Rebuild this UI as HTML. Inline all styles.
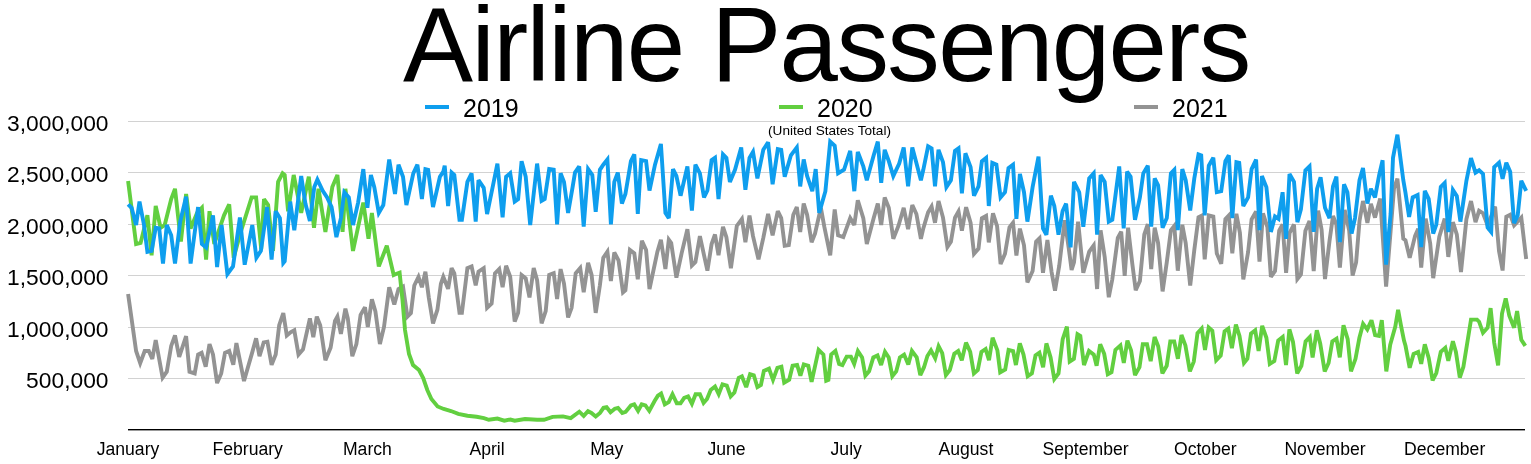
<!DOCTYPE html>
<html><head><meta charset="utf-8"><style>
html,body{margin:0;padding:0;background:#fff;width:1531px;height:464px;overflow:hidden}
svg{display:block;font-family:"Liberation Sans",sans-serif}
text{-webkit-font-smoothing:antialiased}
body{will-change:transform}
</style></head><body>
<svg width="1531" height="464" viewBox="0 0 1531 464">
<rect width="1531" height="464" fill="#fff"/>
<text transform="translate(403,80.8) scale(1,1.0)" x="0" y="0" font-size="105" letter-spacing="-1.6">Airline Passengers</text>
<rect x="425" y="105" width="24" height="4" fill="#0E9EEE"/>
<text x="463" y="117" font-size="25">2019</text>
<rect x="779" y="105" width="24" height="4" fill="#62CF40"/>
<text x="817" y="117" font-size="25">2020</text>
<rect x="1134" y="105" width="24" height="4" fill="#939393"/>
<text x="1172" y="117" font-size="25">2021</text>
<rect x="128" y="121" width="1397" height="1" fill="#d2d2d2"/>
<rect x="128" y="172" width="1397" height="1" fill="#d2d2d2"/>
<rect x="128" y="224" width="1397" height="1" fill="#d2d2d2"/>
<rect x="128" y="275" width="1397" height="1" fill="#d2d2d2"/>
<rect x="128" y="327" width="1397" height="1" fill="#d2d2d2"/>
<rect x="128" y="378" width="1397" height="1" fill="#d2d2d2"/>

<text x="829.5" y="135.3" font-size="13.6" text-anchor="middle">(United States Total)</text>
<text x="108.5" y="387.9" font-size="22.8" text-anchor="end">500,000</text>
<text x="108.5" y="336.9" font-size="22.8" text-anchor="end">1,000,000</text>
<text x="108.5" y="284.9" font-size="22.8" text-anchor="end">1,500,000</text>
<text x="108.5" y="233.9" font-size="22.8" text-anchor="end">2,000,000</text>
<text x="108.5" y="181.9" font-size="22.8" text-anchor="end">2,500,000</text>
<text x="108.5" y="130.9" font-size="22.8" text-anchor="end">3,000,000</text>

<rect x="128" y="429" width="1397" height="1.4" fill="#000"/>
<text x="128.0" y="455" font-size="17.6" text-anchor="middle">January</text>
<text x="247.7" y="455" font-size="17.6" text-anchor="middle">February</text>
<text x="367.4" y="455" font-size="17.6" text-anchor="middle">March</text>
<text x="487.1" y="455" font-size="17.6" text-anchor="middle">April</text>
<text x="606.8" y="455" font-size="17.6" text-anchor="middle">May</text>
<text x="726.5" y="455" font-size="17.6" text-anchor="middle">June</text>
<text x="846.2" y="455" font-size="17.6" text-anchor="middle">July</text>
<text x="965.9" y="455" font-size="17.6" text-anchor="middle">August</text>
<text x="1085.6" y="455" font-size="17.6" text-anchor="middle">September</text>
<text x="1205.3" y="455" font-size="17.6" text-anchor="middle">October</text>
<text x="1325.0" y="455" font-size="17.6" text-anchor="middle">November</text>
<text x="1444.7" y="455" font-size="17.6" text-anchor="middle">December</text>

<polyline points="128.1,294.1 136.1,351.0 140.2,363.1 144.7,351.0 148.8,351.0 152.3,359.0 155.7,340.0 162.6,377.6 166.8,371.7 171.2,345.9 175.0,335.5 179.2,356.9 186.1,336.2 189.5,371.7 194.7,373.4 198.1,354.5 201.6,352.8 205.7,366.6 209.5,344.1 213.0,354.5 217.1,383.1 221.2,373.4 225.0,352.8 229.2,351.0 233.3,364.8 236.4,343.1 244.0,381.0 252.3,352.1 256.1,338.3 259.5,356.2 263.7,342.4 267.4,341.7 271.6,364.8 275.7,354.5 279.2,325.2 283.3,313.1 286.8,335.5 290.9,332.1 294.3,330.3 298.5,354.5 303.0,349.3 309.9,318.3 313.3,337.2 316.8,316.6 320.2,325.2 325.4,360.3 330.6,347.6 335.0,321.0 337.4,316.6 340.9,333.8 345.4,308.6 347.8,318.3 352.3,356.2 356.4,344.1 360.6,314.8 365.0,307.2 367.8,326.9 371.9,299.3 375.4,311.4 379.9,344.1 384.0,326.9 389.2,287.2 394.3,304.5 398.5,289.0 403.0,286.6 407.4,316.6 410.9,313.1 414.3,285.5 418.5,276.9 421.9,287.2 425.4,271.7 428.8,297.6 433.0,323.4 437.4,309.7 440.9,283.8 443.3,276.9 448.1,288.8 451.6,268.1 454.3,273.3 459.5,312.9 461.9,312.9 467.4,268.1 471.6,266.4 475.7,285.3 478.5,271.6 483.7,268.1 487.1,307.8 491.6,303.6 495.0,273.3 499.2,269.1 502.6,287.1 506.1,265.7 510.2,276.7 514.7,321.6 518.1,312.9 521.6,275.0 525.7,278.4 529.5,297.4 533.7,268.1 537.1,280.2 541.6,323.3 545.7,311.2 549.2,275.0 553.7,273.3 557.1,299.1 560.6,269.1 564.0,283.6 568.1,317.4 571.6,307.8 575.7,273.3 580.2,268.1 583.7,292.2 588.1,262.9 591.6,275.0 595.7,312.9 599.9,285.3 603.3,257.8 607.4,251.7 610.9,281.0 614.3,252.4 618.5,260.3 623.0,292.4 625.4,290.3 629.9,250.0 634.3,253.4 637.8,279.3 641.9,240.7 646.1,250.0 649.5,289.0 657.4,251.7 660.9,239.7 665.4,269.0 668.8,239.7 671.2,243.1 676.4,277.6 681.6,253.4 687.4,229.3 691.9,265.5 695.4,262.1 699.9,236.2 707.4,270.7 711.6,244.1 715.0,234.5 718.5,255.2 723.0,226.9 726.4,237.2 730.9,268.3 736.8,225.9 741.9,219.0 745.4,242.1 749.5,215.5 753.0,236.2 758.5,259.3 763.3,237.9 768.1,214.0 772.6,235.3 777.8,211.2 781.2,218.1 784.7,245.7 788.8,245.0 793.3,214.7 796.8,207.1 800.2,231.9 803.7,203.6 807.1,214.7 811.6,242.2 815.0,233.6 820.9,207.8 824.3,226.7 830.2,255.3 834.7,209.5 838.1,235.3 843.3,237.1 850.2,218.1 854.3,225.0 857.8,200.2 863.3,218.1 866.8,244.0 873.7,218.1 877.8,203.6 881.2,225.0 884.7,197.4 888.8,207.8 893.3,238.8 898.5,225.7 903.7,207.8 908.1,229.1 912.3,205.0 916.4,214.0 920.9,238.8 923.3,228.4 928.1,212.4 931.6,206.6 935.0,222.8 938.5,201.0 943.0,217.6 947.4,246.9 950.9,241.7 955.0,217.6 958.5,211.4 961.9,230.7 966.1,207.2 970.6,222.8 974.0,253.8 978.5,248.6 981.9,218.3 986.1,215.9 988.8,242.4 993.0,213.4 997.1,226.2 1000.6,264.1 1005.0,253.8 1009.5,227.2 1013.0,222.8 1016.4,255.5 1019.9,228.6 1024.0,245.2 1027.4,282.4 1032.6,271.0 1036.1,241.7 1039.5,238.3 1043.0,272.8 1047.4,240.0 1051.6,272.1 1055.0,290.7 1059.2,265.9 1064.7,220.3 1068.8,248.6 1071.6,270.0 1074.0,262.4 1078.1,221.7 1083.3,272.8 1089.2,251.7 1093.7,245.5 1097.1,289.0 1100.6,230.3 1104.7,256.9 1108.8,297.2 1112.3,279.3 1117.8,237.9 1121.2,231.7 1124.7,275.9 1128.1,227.6 1132.3,263.8 1135.7,290.3 1139.9,281.0 1144.3,234.5 1147.8,224.1 1151.2,269.0 1154.7,227.6 1158.1,243.1 1162.6,291.4 1166.8,262.1 1170.9,230.3 1174.3,225.9 1177.8,270.7 1182.3,224.8 1185.7,243.1 1190.2,285.5 1194.3,250.0 1198.5,217.2 1201.9,215.5 1204.7,259.3 1208.8,215.5 1213.3,216.6 1216.8,253.4 1221.2,263.8 1225.4,219.0 1228.8,215.5 1232.3,253.4 1236.4,213.8 1239.9,232.8 1243.3,279.3 1248.1,252.1 1251.6,219.3 1256.1,211.4 1259.5,261.7 1263.0,213.4 1267.4,227.2 1270.9,276.9 1275.0,271.0 1279.2,230.7 1282.6,224.5 1286.1,272.8 1289.5,233.1 1294.0,224.5 1297.4,279.0 1300.9,274.5 1305.4,230.7 1309.5,221.0 1313.7,271.0 1318.1,210.7 1321.6,229.7 1325.0,279.0 1329.5,241.0 1333.0,215.9 1336.4,224.5 1339.9,267.6 1344.7,210.0 1349.2,230.7 1352.6,275.5 1356.1,262.4 1359.5,221.0 1363.0,201.0 1367.4,222.8 1370.9,203.8 1375.0,217.6 1380.2,198.6 1386.1,286.6 1390.6,231.4 1394.0,188.3 1397.4,178.6 1403.3,238.6 1405.5,240.3 1409.7,257.8 1415.1,235.8 1418.2,228.9 1421.2,267.5 1425.7,218.6 1430.2,243.4 1433.2,278.1 1439.3,236.7 1444.7,218.6 1448.3,256.9 1452.9,222.2 1456.8,234.3 1461.0,272.0 1466.4,219.2 1471.0,201.1 1475.5,222.2 1479.1,210.8 1483.0,213.2 1487.6,225.3 1495.1,206.6 1499.0,250.9 1502.6,270.5 1506.3,216.8 1510.2,214.7 1514.1,225.3 1521.3,217.7 1526.2,259.1" fill="none" stroke="#939393" stroke-width="3.9" stroke-linejoin="miter" stroke-miterlimit="3"/>
<polyline points="128.1,180.9 136.1,244.0 140.6,242.9 147.4,215.3 151.6,255.3 155.7,206.0 160.6,227.8 164.7,225.0 171.2,199.1 175.0,188.8 180.9,241.6 186.1,194.0 190.6,228.4 197.1,212.9 201.9,207.8 206.1,259.5 209.5,211.2 214.3,244.0 224.0,215.3 229.2,204.3 233.7,257.8 239.9,234.7 251.6,197.4 256.1,197.4 261.2,249.1 264.0,199.1 268.1,205.0 273.0,250.9 278.1,181.9 282.6,173.3 284.7,175.0 288.1,211.2 293.7,175.0 301.2,212.9 308.8,176.7 314.0,227.8 318.5,188.8 325.4,231.9 332.3,187.1 337.4,175.0 342.6,231.9 345.4,188.8 353.0,250.9 363.3,202.6 368.5,238.8 371.9,212.9 378.8,266.4 386.8,245.7 393.7,275.0 397.8,273.3 399.6,272.7 402.5,300.0 405.0,330.0 409.0,354.0 413.0,365.0 419.0,370.0 423.2,378.0 427.3,390.0 431.4,399.0 437.6,406.5 443.7,409.0 451.0,411.0 458.3,413.8 467.4,415.7 476.6,416.8 483.9,418.2 488.8,419.8 497.4,418.6 504.3,420.7 510.4,419.5 514.7,420.7 525.0,419.0 537.1,419.8 544.0,419.8 552.6,416.9 563.0,416.4 570.7,418.1 579.3,411.7 583.7,415.9 588.0,411.2 591.4,412.9 595.7,416.4 600.0,412.9 603.5,407.8 606.6,407.2 610.5,412.3 614.8,408.7 618.0,408.0 622.3,413.0 625.6,411.9 630.9,405.4 634.2,404.4 638.1,410.8 641.7,404.4 645.4,405.4 649.3,410.8 654.6,401.1 657.9,395.7 661.1,393.6 664.8,404.4 668.7,402.2 672.5,394.2 676.8,403.3 680.5,403.3 684.2,397.9 688.1,396.4 691.9,403.7 695.6,394.2 699.9,394.2 703.6,402.8 707.0,399.0 710.7,389.9 715.0,386.5 718.7,394.2 722.5,384.3 726.8,385.6 730.7,396.4 734.4,392.5 738.7,377.8 741.9,376.3 746.2,387.1 750.1,374.2 753.8,375.3 757.4,387.1 760.9,385.0 763.9,370.9 769.0,368.6 773.0,379.8 777.4,367.8 781.4,366.7 784.2,382.7 789.2,379.8 792.6,365.8 797.1,365.0 800.4,375.6 803.8,364.4 808.3,365.8 811.6,381.8 818.6,349.9 823.4,354.6 826.2,380.7 828.4,379.8 831.2,354.6 835.4,351.0 839.1,363.9 842.4,365.0 846.7,356.6 850.9,356.6 854.2,363.9 857.9,351.0 862.1,357.4 865.4,375.6 869.1,371.4 873.3,357.4 877.5,355.5 881.1,365.0 885.0,351.8 888.7,357.4 892.3,376.2 896.2,371.4 899.9,357.4 904.1,354.6 908.3,364.4 911.9,351.0 916.7,357.4 920.3,375.1 924.0,367.2 927.4,356.0 931.0,350.4 935.2,358.3 938.6,346.2 942.2,353.2 945.9,375.1 949.8,370.0 954.3,353.8 958.2,351.0 961.8,360.2 966.0,342.6 970.2,351.8 973.9,373.4 977.8,370.0 981.4,351.8 985.6,349.0 989.0,360.2 992.6,337.8 997.4,350.4 1000.2,372.3 1005.2,369.5 1008.6,349.9 1013.1,351.0 1015.9,365.0 1019.8,343.4 1023.5,354.6 1027.7,376.2 1031.9,373.4 1035.5,355.5 1039.4,352.7 1043.1,367.2 1046.4,343.4 1050.6,357.4 1054.3,379.0 1058.5,373.4 1062.7,339.2 1066.9,326.6 1069.7,361.6 1073.9,358.8 1077.5,334.2 1080.3,335.9 1084.0,365.0 1089.0,351.0 1093.8,354.6 1096.6,365.8 1100.2,344.3 1104.2,353.8 1107.8,374.2 1111.5,372.3 1115.4,349.9 1120.4,345.4 1123.8,363.0 1127.4,340.6 1131.1,350.4 1135.0,375.1 1139.5,367.2 1142.8,344.3 1147.0,344.3 1150.7,361.1 1154.6,337.0 1158.2,346.2 1162.4,373.4 1166.7,365.8 1170.3,341.5 1174.2,341.5 1177.9,358.8 1181.5,335.0 1185.4,345.4 1189.9,371.4 1193.8,361.6 1197.5,333.1 1201.7,328.6 1205.0,349.9 1208.7,327.5 1212.3,330.8 1216.2,360.2 1220.7,355.5 1224.6,331.4 1228.3,328.6 1231.9,348.2 1235.9,324.7 1239.5,335.9 1244.0,363.0 1247.4,358.8 1251.0,333.6 1255.2,330.3 1258.6,351.0 1262.2,325.8 1266.4,337.8 1269.8,363.9 1274.3,361.1 1278.2,340.6 1282.7,337.0 1286.0,365.0 1289.4,329.4 1293.0,342.0 1297.2,373.4 1301.4,365.8 1305.6,341.5 1309.8,337.0 1312.6,357.4 1316.8,330.3 1320.2,343.4 1324.7,371.4 1328.6,363.0 1332.3,341.5 1336.5,338.7 1339.8,357.4 1343.5,325.2 1347.7,339.2 1351.0,371.4 1355.5,358.8 1359.4,337.8 1363.1,323.8 1367.3,329.4 1371.5,320.2 1375.1,335.0 1379.0,335.9 1381.8,320.2 1386.3,371.4 1390.2,344.8 1395.3,326.6 1398.1,309.8 1400.9,325.2 1404.0,340.6 1405.5,345.8 1409.7,367.8 1413.6,354.0 1418.2,351.9 1421.2,363.9 1424.8,344.3 1428.7,357.9 1432.6,380.5 1436.3,373.0 1440.8,351.9 1445.3,347.9 1448.3,360.9 1452.9,341.3 1455.9,351.9 1459.8,377.5 1463.4,366.9 1471.0,319.6 1477.0,319.6 1479.1,321.7 1483.0,332.8 1487.6,327.7 1490.6,308.1 1494.2,342.8 1498.1,365.4 1502.0,313.5 1505.7,298.4 1509.3,315.6 1514.1,327.7 1517.1,311.1 1521.3,339.8 1525.3,345.8" fill="none" stroke="#62CF40" stroke-width="3.9" stroke-linejoin="miter" stroke-miterlimit="3"/>
<polyline points="128.1,204.3 131.6,207.8 136.1,225.0 139.5,201.6 144.0,225.0 147.4,251.9 151.6,250.9 155.7,227.8 159.2,228.4 163.0,263.6 166.8,225.0 171.2,235.3 175.0,263.6 180.2,221.6 186.1,196.7 190.6,263.6 198.1,207.1 201.9,244.0 206.1,247.4 213.0,215.3 217.1,267.1 221.6,225.0 227.4,274.0 233.0,266.4 239.9,217.4 244.7,264.7 252.3,225.0 256.4,257.8 260.9,250.9 267.1,207.1 271.6,259.5 275.7,211.2 279.9,218.1 283.3,262.9 284.7,261.2 290.2,201.6 294.3,230.2 301.2,176.0 305.4,203.6 309.9,220.9 314.3,187.1 317.4,179.5 322.6,190.5 327.1,197.4 331.6,207.1 336.4,237.1 340.9,218.1 344.3,192.2 348.8,197.4 353.0,225.0 358.1,202.6 363.3,169.1 367.4,207.8 370.9,175.0 374.3,187.1 378.8,212.9 383.3,205.0 389.2,159.5 395.0,194.0 398.5,164.7 403.0,176.7 406.4,205.0 413.3,173.3 417.4,164.7 421.9,199.1 425.4,169.1 428.1,169.8 433.0,207.1 439.9,176.7 443.3,171.6 444.7,165.7 448.1,206.0 451.6,172.6 454.3,175.0 459.5,219.8 461.9,219.8 467.4,181.9 471.6,173.3 475.7,221.6 478.5,180.2 483.7,187.8 487.1,214.0 493.0,185.3 497.4,163.6 502.6,217.4 506.1,176.7 510.2,173.3 514.7,201.6 518.1,199.1 521.6,161.2 525.7,176.7 530.2,225.0 537.1,163.6 541.6,200.9 544.7,199.1 549.2,169.1 553.7,169.8 557.1,224.3 560.6,173.3 564.0,181.9 568.1,212.9 572.3,188.8 575.0,172.6 579.2,166.4 583.7,226.7 588.1,169.1 592.3,175.0 595.7,211.9 599.9,169.8 603.3,164.7 607.4,159.5 610.9,224.3 614.3,181.9 617.8,172.6 621.9,203.6 625.4,194.0 630.9,161.2 634.3,154.3 637.8,214.0 641.2,160.2 646.1,161.2 649.5,190.5 655.0,164.7 660.9,144.0 665.4,212.9 668.8,218.1 673.0,169.1 676.4,176.0 680.6,195.7 687.4,166.4 691.9,210.5 695.4,164.7 699.9,173.3 704.0,197.4 707.4,190.5 711.6,160.2 715.0,157.8 718.5,199.1 723.0,154.3 726.4,157.8 729.9,181.9 735.0,169.8 741.2,147.4 745.4,189.8 749.5,157.8 753.0,151.9 757.4,178.4 763.3,149.8 768.1,142.2 772.6,184.3 777.8,149.1 781.2,149.8 784.7,176.7 790.9,155.3 796.8,147.4 800.2,186.4 803.7,159.5 807.1,176.0 812.3,191.2 815.7,169.1 819.2,212.9 825.4,191.2 830.2,141.6 834.7,145.7 838.1,173.3 844.0,169.8 850.2,150.9 854.3,191.2 857.8,151.9 863.3,166.4 866.8,180.2 873.7,155.3 877.8,141.6 881.2,182.9 884.7,149.8 888.8,161.2 893.3,176.0 899.2,163.6 903.7,147.4 908.1,186.4 912.3,147.4 916.4,162.9 920.9,180.2 923.3,169.8 928.1,146.4 931.6,148.4 935.0,186.4 938.5,149.8 943.0,162.2 946.4,187.1 950.9,180.2 955.0,150.9 958.5,148.4 961.9,193.3 965.4,153.3 970.6,167.1 974.0,195.7 978.5,186.4 981.9,161.2 986.1,157.8 988.8,206.0 992.3,162.9 996.4,164.7 1000.6,197.4 1005.0,192.2 1008.5,168.1 1013.0,164.7 1016.4,218.8 1019.9,174.0 1024.0,192.2 1027.4,221.6 1032.6,187.1 1038.5,156.7 1043.0,228.4 1046.4,234.7 1050.9,195.7 1054.3,206.0 1058.5,234.7 1062.6,211.2 1066.1,203.6 1070.6,247.4 1074.0,181.9 1079.2,192.2 1083.3,226.7 1089.2,178.4 1093.7,173.3 1097.1,234.7 1100.6,175.0 1104.7,181.9 1108.8,221.6 1112.3,219.8 1119.2,166.4 1123.7,228.4 1127.1,171.6 1130.6,176.7 1135.0,219.8 1139.9,197.4 1143.3,173.3 1147.8,165.7 1151.2,226.7 1154.7,178.4 1158.1,185.3 1162.6,227.8 1166.8,218.1 1170.9,173.3 1174.3,169.8 1177.8,230.2 1182.3,169.1 1185.7,180.2 1190.2,210.5 1194.3,178.4 1198.5,154.3 1201.2,155.3 1204.7,215.3 1208.8,165.7 1213.3,157.8 1216.8,192.2 1221.2,191.2 1225.4,161.2 1228.8,155.3 1232.3,218.1 1236.4,162.2 1239.2,162.9 1243.3,206.0 1248.1,197.4 1251.6,169.1 1256.1,159.5 1259.5,230.2 1261.9,176.0 1266.4,187.1 1270.9,231.9 1275.0,216.4 1278.5,218.8 1282.6,192.2 1286.1,238.8 1289.5,174.0 1294.0,181.9 1297.4,222.2 1300.9,209.5 1305.4,170.5 1309.5,166.4 1313.7,231.9 1317.1,188.8 1320.6,177.4 1325.0,207.8 1329.5,218.1 1333.0,186.4 1336.4,176.7 1339.9,242.2 1344.0,184.3 1347.4,192.2 1351.6,233.6 1355.0,218.1 1359.5,180.2 1363.0,168.1 1367.4,203.6 1370.9,188.8 1375.0,197.4 1379.2,175.0 1382.6,160.2 1386.1,264.7 1390.6,214.0 1393.0,157.8 1397.4,134.7 1403.3,180.2 1405.5,192.9 1409.1,217.0 1412.7,197.4 1417.6,195.0 1421.2,247.2 1424.8,190.8 1428.7,198.9 1433.2,233.6 1436.3,224.6 1440.8,186.9 1444.7,182.9 1448.3,232.1 1452.9,189.9 1456.8,195.9 1460.4,221.6 1466.4,180.8 1471.0,158.2 1475.5,172.7 1479.1,170.3 1483.0,173.9 1487.6,227.6 1491.2,232.1 1494.2,167.2 1499.0,162.7 1502.6,178.7 1506.3,162.7 1510.2,171.8 1514.1,223.1 1517.7,215.5 1521.3,180.8 1526.2,190.8" fill="none" stroke="#0E9EEE" stroke-width="3.9" stroke-linejoin="miter" stroke-miterlimit="3"/>

</svg>
</body></html>
